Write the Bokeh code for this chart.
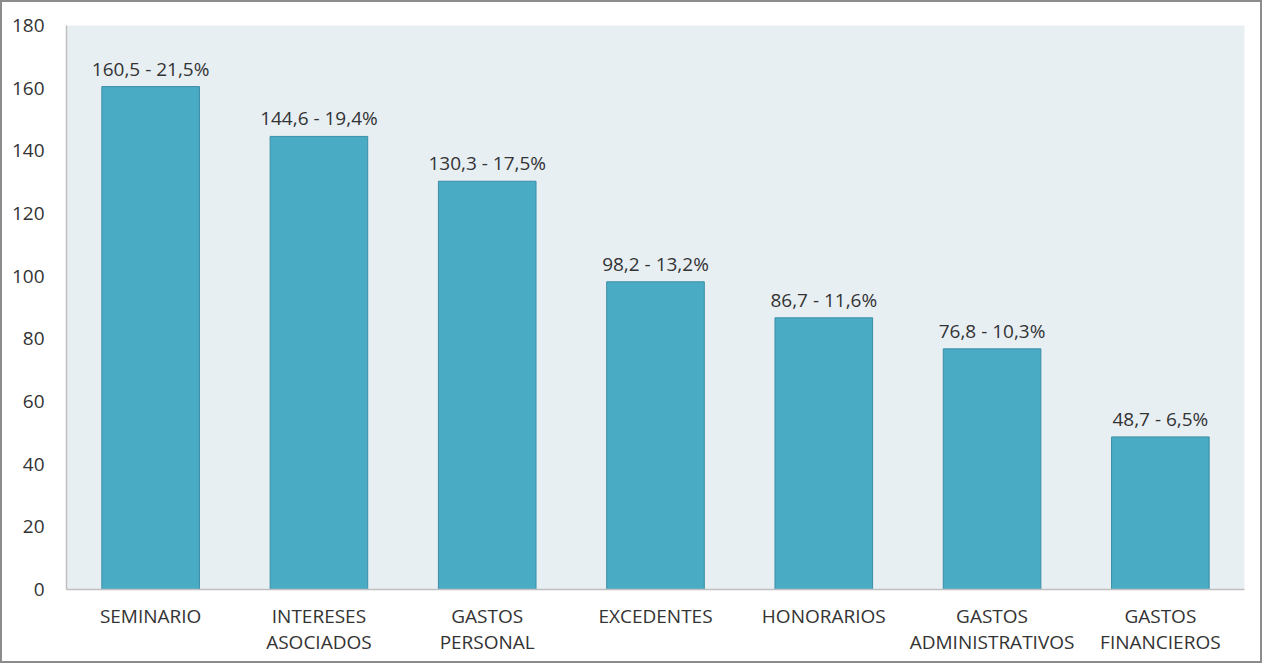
from bokeh.plotting import figure
from bokeh.models import ColumnDataSource, FactorRange, Range1d, FixedTicker
from bokeh.core.properties import value
from bokeh.embed import file_html
from bokeh.resources import INLINE

categories = ["SEMINARIO", "INTERESES\nASOCIADOS", "GASTOS\nPERSONAL", "EXCEDENTES",
              "HONORARIOS", "GASTOS\nADMINISTRATIVOS", "GASTOS\nFINANCIEROS"]
values = [160.5, 144.6, 130.3, 98.2, 86.7, 76.8, 48.7]
percents = ["21,5%", "19,4%", "17,5%", "13,2%", "11,6%", "10,3%", "6,5%"]
y_ticks = [0, 20, 40, 60, 80, 100, 120, 140, 160, 180]

labels = [f"{v:.1f}".replace(".", ",") + " - " + pc for v, pc in zip(values, percents)]

src = ColumnDataSource(dict(cat=categories, val=values, lab=labels))

FONT = "Open Sans"
TXT = "#333333"

p = figure(width=1262, height=663, x_range=FactorRange(*categories, range_padding=0),
           y_range=Range1d(0, 180), output_backend="svg", toolbar_location=None,
           min_border_left=64, min_border_right=20, min_border_top=23, min_border_bottom=76)
p.styles = {"border": "2px solid #8c8c8c"}
p.background_fill_color = "#e8eff3"
p.border_fill_color = "white"
p.outline_line_color = None
p.grid.visible = False

p.vbar(x="cat", top="val", width=0.58, source=src, fill_color="#4aabc5",
       line_color="#3a8ea6", line_width=1)
p.text(x="cat", y="val", text="lab", source=src, text_align="center",
       text_baseline="alphabetic", y_offset=-18, text_font=value(FONT),
       text_font_size="19px", text_color=TXT)

for ax in (p.xaxis, p.yaxis):
    ax.axis_line_color = "#bfbfbf"
    ax.axis_line_width = 1.5
    ax.major_tick_line_color = None
    ax.minor_tick_line_color = None
    ax.major_label_text_font = FONT
    ax.major_label_text_font_size = "19px"
    ax.major_label_text_color = TXT

p.yaxis.ticker = FixedTicker(ticks=y_ticks)
p.yaxis.major_label_standoff = 16
p.xaxis.major_label_standoff = 7
p.xaxis.major_label_text_line_height = 1.0

open("out.html", "w").write(file_html(p, INLINE))
